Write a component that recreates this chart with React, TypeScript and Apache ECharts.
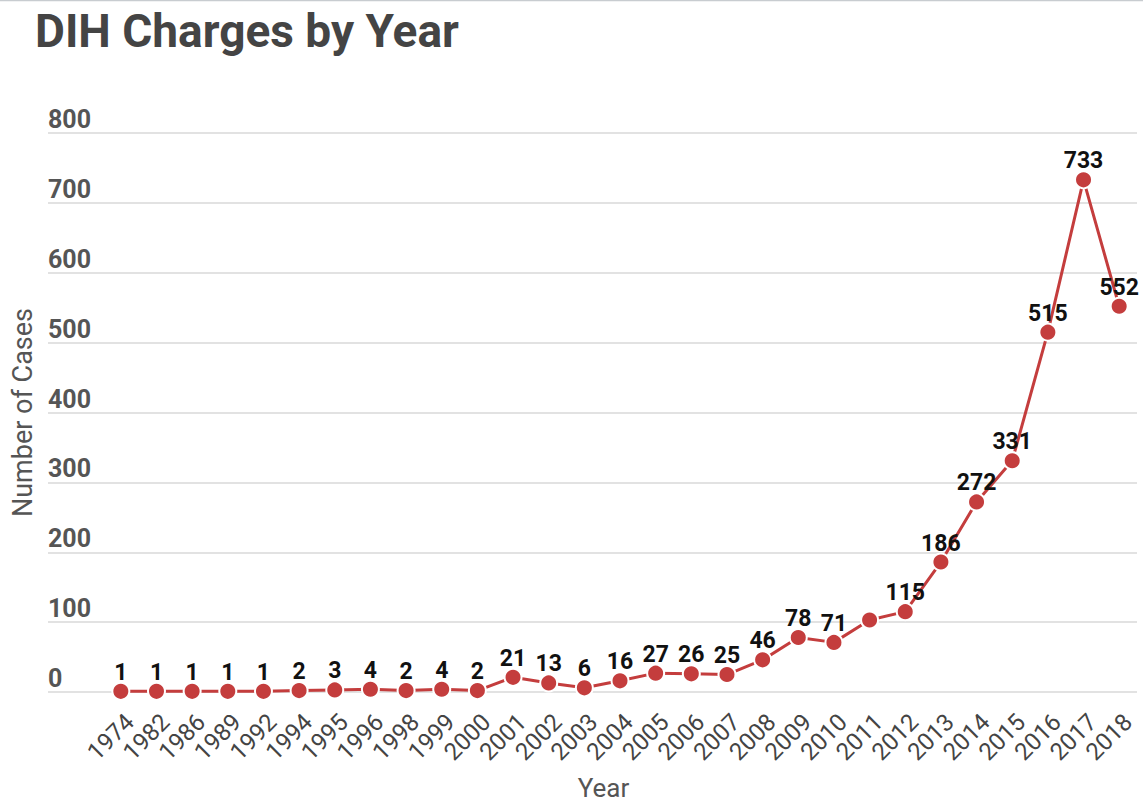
import React, { useEffect, useRef } from "react";
import * as echarts from "echarts";

const years = ["1974","1982","1986","1989","1992","1994","1995","1996","1998","1999","2000","2001","2002","2003","2004","2005","2006","2007","2008","2009","2010","2011","2012","2013","2014","2015","2016","2017","2018"];
const cases = [1,1,1,1,1,2,3,4,2,4,2,21,13,6,16,27,26,25,46,78,71,103,115,186,272,331,515,733,552];
const hiddenLabelYears = ["2011"];
const yTicks = [0, 100, 200, 300, 400, 500, 600, 700, 800];

const FONT = "Roboto, 'Noto Sans', sans-serif";
const RED = "#c43d3d";

export default function App() {
  const ref = useRef<HTMLDivElement>(null);
  useEffect(() => {
    document.body.style.margin = "0";
    const chart = echarts.init(ref.current!, null, { renderer: "svg" });
    const gridTop = 133;
    const gridBottom = 112;
    chart.setOption({
      animation: false,
      backgroundColor: "#ffffff",
      title: {
        text: "DIH Charges by Year",
        left: 30,
        top: 3,
        textStyle: { fontFamily: FONT, fontSize: 46, fontWeight: "bold", color: "#444444" },
      },
      graphic: [
        { type: "line", shape: { x1: 0, y1: 0.5, x2: 1143, y2: 0.5 }, style: { stroke: "#c8ccd0", lineWidth: 1.5 } },
      ],
      grid: [
        { left: 48, right: 6, top: gridTop, bottom: gridBottom, outerBoundsMode: "none", containLabel: false },
        { left: 103, right: 6, top: gridTop, bottom: gridBottom, outerBoundsMode: "none", containLabel: false },
        { left: 112, right: -3, top: gridTop, bottom: gridBottom, outerBoundsMode: "none", containLabel: false },
      ],
      xAxis: [
        {
          gridIndex: 0,
          type: "value",
          min: 0,
          max: 1,
          axisLine: { show: false },
          axisTick: { show: false },
          axisLabel: { show: false },
          splitLine: { show: false },
          name: "Year",
          nameLocation: "middle",
          nameGap: 83,
          nameTextStyle: { fontFamily: FONT, fontSize: 26, color: "#555555", padding: [0, 0, 0, 22] },
        },
        {
          gridIndex: 1,
          type: "category",
          data: years,
          boundaryGap: true,
          axisLine: { show: false },
          axisTick: { show: false },
          axisLabel: { show: false },
        },
        {
          gridIndex: 2,
          type: "category",
          data: years,
          boundaryGap: true,
          axisLine: { show: false },
          axisTick: { show: false },
          axisLabel: {
            interval: 0,
            rotate: 45,
            margin: 26,
            fontFamily: FONT,
            fontSize: 24,
            color: "#444444",
          },
        },
      ],
      yAxis: [
        {
          gridIndex: 0,
          type: "value",
          min: yTicks[0],
          max: yTicks[yTicks.length - 1],
          interval: 100,
          axisLine: { show: false },
          axisTick: { show: false },
          splitLine: { lineStyle: { color: "#d9d9d9", width: 1.5 } },
          axisLabel: {
            inside: true,
            margin: 0,
            verticalAlign: "bottom",
            padding: [0, 0, 1, 0],
            fontFamily: FONT,
            fontSize: 25,
            fontWeight: "bold",
            color: "#555555",
          },
          name: "Number of Cases",
          nameLocation: "middle",
          nameGap: 12,
          nameRotate: 90,
          nameTextStyle: { fontFamily: FONT, fontSize: 27, color: "#555555" },
        },
        {
          gridIndex: 1,
          type: "value",
          min: yTicks[0],
          max: yTicks[yTicks.length - 1],
          interval: 100,
          show: false,
          splitLine: { show: false },
        },
        {
          gridIndex: 2,
          type: "value",
          min: yTicks[0],
          max: yTicks[yTicks.length - 1],
          interval: 100,
          show: false,
          splitLine: { show: false },
        },
      ],
      series: [
        {
          type: "line",
          xAxisIndex: 1,
          yAxisIndex: 1,
          data: cases.map((v, i) =>
            hiddenLabelYears.includes(years[i]) ? { value: v, label: { show: false } } : v
          ),
          symbol: "circle",
          symbolSize: 17,
          lineStyle: { color: RED, width: 3 },
          itemStyle: { color: RED, borderColor: "#ffffff", borderWidth: 2 },
          label: {
            show: true,
            position: "top",
            distance: -2,
            fontFamily: FONT,
            fontSize: 23,
            fontWeight: "bold",
            color: "#111111",
          },
          z: 3,
        },
      ],
    });
    return () => chart.dispose();
  }, []);
  return <div ref={ref} style={{ width: 1143, height: 804 }} />;
}
